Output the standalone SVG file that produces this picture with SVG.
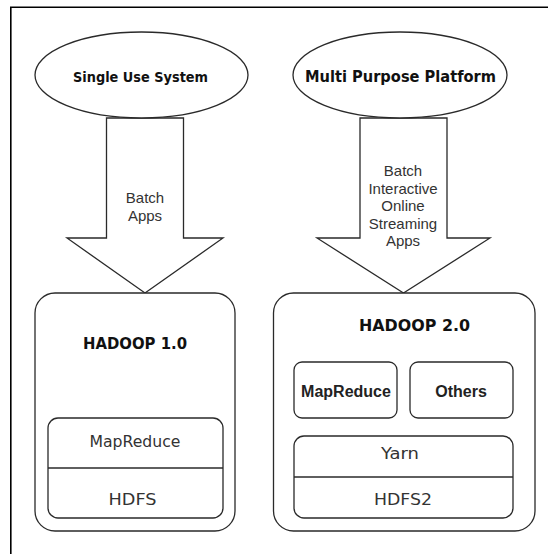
<svg xmlns="http://www.w3.org/2000/svg" width="548" height="554" viewBox="0 0 548 554">
<style>
.shp{fill:#fff;stroke:#2a2a2a;stroke-width:1.3}
.ln{fill:none;stroke:#2a2a2a;stroke-width:1.3}
.comicb{font-family:'Comic Sans MS','DejaVu Sans',sans-serif;font-weight:bold;fill:#111;text-anchor:middle}
.comic{font-family:'Comic Sans MS','DejaVu Sans',sans-serif;fill:#333;text-anchor:middle}
.ar{font-family:'Liberation Sans',Arial,sans-serif;font-size:15px;fill:#333;text-anchor:middle}
.arb{font-family:'Liberation Sans',Arial,sans-serif;font-size:16px;font-weight:bold;fill:#222;text-anchor:middle}
</style>
<rect width="548" height="554" fill="#fff"/>
<path d="M10.8,554 V7.2 H548" fill="none" stroke="#000" stroke-width="1.6"/>
<g id="connectors">
  <g id="arrow-left">
    <polygon class="shp" points="106.5,118 183.5,118 183.5,238 223,238 145,293 67,238 106.5,238"/>
    <text class="ar" x="145" y="202.5">Batch</text>
    <text class="ar" x="145" y="220.5">Apps</text>
  </g>
  <g id="arrow-right">
    <polygon class="shp" points="360,118 447,118 447,238 490,238 403.5,293 317,238 360,238"/>
    <text class="ar" x="403" y="176">Batch</text>
    <text class="ar" x="403" y="193.6">Interactive</text>
    <text class="ar" x="403" y="211.2">Online</text>
    <text class="ar" x="403" y="228.8">Streaming</text>
    <text class="ar" x="403" y="246.4">Apps</text>
  </g>
</g>
<g id="single-use">
  <ellipse class="shp" cx="141.5" cy="75" rx="106.5" ry="43"/>
  <text class="comicb" x="140.5" y="82" font-size="14.5" textLength="135" lengthAdjust="spacingAndGlyphs">Single Use System</text>
</g>
<g id="multi-purpose">
  <ellipse class="shp" cx="400" cy="75" rx="107" ry="43"/>
  <text class="comicb" x="400.5" y="82" font-size="15.5" textLength="191" lengthAdjust="spacingAndGlyphs">Multi Purpose Platform</text>
</g>
<g id="hadoop1">
  <rect class="shp" x="35" y="293" width="200" height="238" rx="20"/>
  <text class="comicb" x="135" y="349" font-size="15.5" textLength="104" lengthAdjust="spacingAndGlyphs">HADOOP 1.0</text>
  <g id="stack1">
    <rect class="shp" x="48" y="418" width="175" height="100" rx="10"/>
    <line class="ln" x1="48" y1="468" x2="223" y2="468"/>
    <text class="comic" x="135" y="447" font-size="15" textLength="91" lengthAdjust="spacingAndGlyphs">MapReduce</text>
    <text class="comic" x="132.5" y="505" font-size="15" textLength="48" lengthAdjust="spacingAndGlyphs">HDFS</text>
  </g>
</g>
<g id="hadoop2">
  <rect class="shp" x="273.5" y="293" width="261.5" height="238" rx="20"/>
  <text class="comicb" x="414.5" y="330.5" font-size="15.5" textLength="111" lengthAdjust="spacingAndGlyphs">HADOOP 2.0</text>
  <g id="mapreduce2">
    <rect class="shp" x="294" y="362" width="103" height="56" rx="8"/>
    <text class="arb" x="346" y="397">MapReduce</text>
  </g>
  <g id="others">
    <rect class="shp" x="410" y="362" width="103" height="56" rx="8"/>
    <text class="arb" x="461" y="397">Others</text>
  </g>
  <g id="stack2">
    <rect class="shp" x="294" y="436" width="219" height="82" rx="10"/>
    <line class="ln" x1="294" y1="477" x2="513" y2="477"/>
    <text class="comic" x="400" y="459" font-size="15" textLength="38" lengthAdjust="spacingAndGlyphs">Yarn</text>
    <text class="comic" x="403" y="504.5" font-size="15" textLength="58" lengthAdjust="spacingAndGlyphs">HDFS2</text>
  </g>
</g>
</svg>
